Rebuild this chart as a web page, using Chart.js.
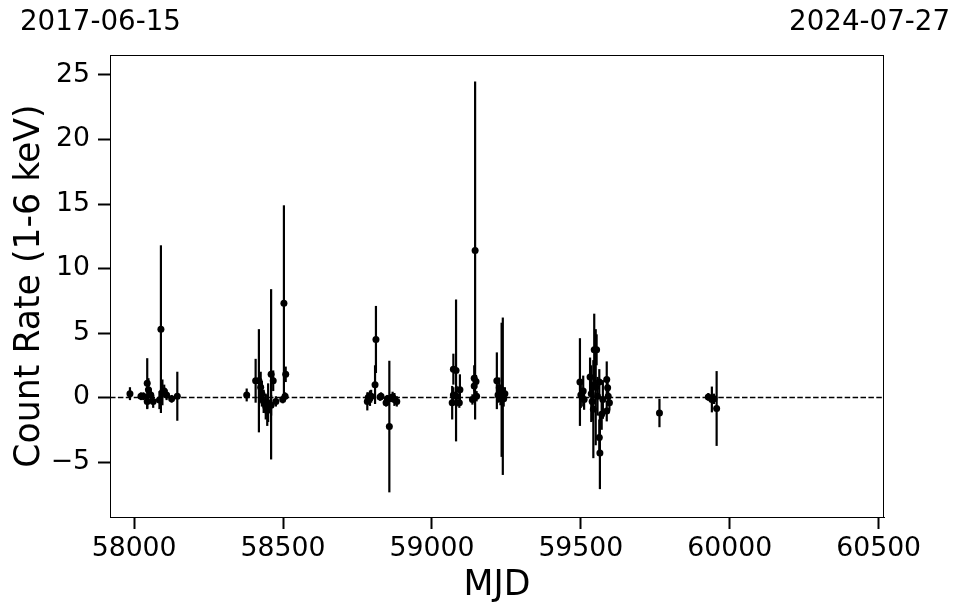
<!DOCTYPE html>
<html>
<head>
<meta charset="utf-8">
<script src="https://cdn.jsdelivr.net/npm/chart.js@4"></script>
<style>
  html, body { margin: 0; padding: 0; background: #fff; }
  #wrap { width: 962px; height: 613px; }
</style>
</head>
<body>
<div id="wrap"><canvas id="lc" width="962" height="613"></canvas></div>
<script>
// light curve values
const mjd = [
  57986, 58023, 58031, 58044, 58048, 58044, 58056, 58064, 58085, 58090, 58095, 58101, 58109, 58126, 58145,
  58378, 58408, 58419, 58425, 58429, 58435, 58442, 58447, 58450, 58460, 58467, 58460, 58476, 58499, 58503, 58509, 58507,
  58783, 58786, 58792, 58796, 58809, 58812, 58826, 58829, 58846, 58850, 58857, 58862, 58868, 58874, 58882,
  59068, 59072, 59072, 59081, 59083, 59092, 59094, 59136, 59142, 59142, 59145, 59148, 59150,
  59218, 59222, 59226, 59230, 59234, 59238, 59241, 59245,
  59497, 59500, 59508, 59511, 59531, 59535, 59538, 59542, 59545, 59550, 59553, 59556, 59562, 59564, 59562,
  59570, 59574, 59587, 59590, 59592, 59587, 59596, 59764,
  59928, 59940, 59947, 59956
];
const rate = [
  0.3, 0.1, 0.1, 1.1, 0.6, -0.3, 0.2, -0.3, -0.2, 5.3, 0.4, 0.5, 0.2, -0.1, 0.1,
  0.2, 1.3, 1.3, 0.8, 0.3, -0.3, -0.7, -1.0, -0.4, 1.8, 1.3, -0.6, -0.3, -0.15, 7.3, 1.8, 0.1,
  -0.3, 0.0, -0.05, 0.1, 1.0, 4.5, 0.05, 0.1, -0.4, -0.1, -2.25, -0.05, 0.05, -0.15, -0.3,
  -0.4, 2.2, 0.2, 2.1, 0.1, -0.4, 0.6, -0.15, 1.5, 0.9, 11.4, 1.25, 0.1,
  1.3, 0.2, 0.75, -0.1, 0.6, 0.1, -0.1, 0.3,
  1.2, 0.2, 0.5, -0.15, 1.6, 0.3, -0.3, -0.9, 3.7, 0.8, 3.7, 0.1, -3.1, -4.3, 1.2,
  -1.3, -0.15, 1.4, 0.75, 0.1, -1.05, -0.4, -1.2,
  0.05, -0.15, -0.1, -0.85
];
const rateErr = [
  0.5, 0.3, 0.3, 1.95, 0.9, 0.6, 0.5, 0.5, 0.7, 6.5, 1.0, 0.5, 0.4, 0.3, 1.9,
  0.5, 1.7, 4.0, 1.2, 1.0, 0.9, 1.0, 1.2, 1.5, 6.6, 0.8, 0.8, 0.4, 0.3, 7.6, 0.6, 0.3,
  0.7, 0.4, 0.6, 0.5, 1.5, 2.6, 0.3, 0.3, 0.3, 0.3, 5.1, 0.3, 0.4, 0.5, 0.4,
  1.3, 1.2, 0.6, 5.5, 0.8, 0.4, 1.2, 0.4, 1.0, 0.8, 13.1, 0.5, 0.4,
  2.2, 0.6, 0.8, 0.5, 5.2, 6.1, 0.6, 0.5,
  3.4, 1.0, 1.2, 0.8, 1.5, 2.2, 1.5, 3.8, 2.8, 4.5, 1.2, 1.5, 1.4, 2.8, 1.0,
  1.2, 1.5, 1.4, 0.8, 0.7, 0.8, 0.6, 1.1,
  0.3, 1.0, 0.4, 2.9
];

const xTicks = [58000, 58500, 59000, 59500, 60000, 60500];
const yTicks = [-5, 0, 5, 10, 15, 20, 25];
const xRange = [57919, 60518];
const yRange = [-9.26, 26.55];
const startLabel = '2017-06-15';
const endLabel = '2024-07-27';

const FONT = 'DejaVu Sans';

// vertical error bars, drawn through the chart scales
const errorBars = {
  id: 'errorBars',
  beforeDatasetsDraw(chart) {
    const ctx = chart.ctx;
    const xs = chart.scales.x, ys = chart.scales.y;
    ctx.save();
    ctx.strokeStyle = '#000';
    ctx.lineWidth = 2.2;
    for (let i = 0; i < mjd.length; i++) {
      const px = xs.getPixelForValue(mjd[i]);
      ctx.beginPath();
      ctx.moveTo(px, ys.getPixelForValue(rate[i] - rateErr[i]));
      ctx.lineTo(px, ys.getPixelForValue(rate[i] + rateErr[i]));
      ctx.stroke();
    }
    ctx.restore();
  }
};

// box around the axes and the two date labels on top
const frame = {
  id: 'frame',
  afterDraw(chart) {
    const ctx = chart.ctx;
    const a = chart.chartArea;
    ctx.save();
    ctx.strokeStyle = '#000';
    ctx.lineWidth = 1;
    ctx.strokeRect(a.left + 0.5, a.top + 0.5, a.right - a.left - 1, a.bottom - a.top);
    ctx.fillStyle = '#000';
    ctx.font = '27.7px "' + FONT + '"';
    ctx.textBaseline = 'middle';
    ctx.textAlign = 'left';
    ctx.fillText(startLabel, 20, 23);
    ctx.textAlign = 'right';
    ctx.fillText(endLabel, 950, 23);
    ctx.restore();
  }
};

new Chart(document.getElementById('lc'), {
  type: 'scatter',
  data: {
    datasets: [
      {
        data: mjd.map((m, i) => ({ x: m, y: rate[i] })),
        backgroundColor: '#000',
        borderColor: '#000',
        borderWidth: 0,
        pointRadius: 3.5,
        order: 0
      },
      {
        type: 'line',
        data: [{ x: xRange[0], y: 0 }, { x: xRange[1], y: 0 }],
        borderColor: '#000',
        borderWidth: 1.6,
        borderDash: [5.5, 2.4],
        pointRadius: 0,
        order: 1
      }
    ]
  },
  options: {
    responsive: false,
    animation: false,
    devicePixelRatio: 1,
    layout: { padding: { top: 55, right: 78, left: 0, bottom: 0 } },
    plugins: { legend: { display: false }, tooltip: { enabled: false } },
    scales: {
      x: {
        type: 'linear',
        min: xRange[0],
        max: xRange[1],
        afterBuildTicks: s => { s.ticks = xTicks.map(v => ({ value: v })); },
        afterFit: s => { s.height = 96; },
        grid: { drawOnChartArea: false, drawTicks: true, tickLength: 12, tickWidth: 2, tickColor: '#000' },
        border: { display: true, color: '#000', width: 1 },
        ticks: { color: '#000', font: { family: FONT, size: 26.7 }, padding: 4, maxRotation: 0, callback: v => String(v) },
        title: { display: true, text: 'MJD', color: '#000', font: { family: FONT, size: 34.7 }, padding: { top: 0, bottom: 6 } }
      },
      y: {
        min: yRange[0],
        max: yRange[1],
        afterBuildTicks: s => { s.ticks = yTicks.map(v => ({ value: v })); },
        afterFit: s => { s.width = 110; },
        grid: { drawOnChartArea: false, drawTicks: true, tickLength: 12, tickWidth: 2, tickColor: '#000' },
        border: { display: true, color: '#000', width: 1 },
        ticks: { color: '#000', font: { family: FONT, size: 26.7 }, padding: 8, callback: v => (v < 0 ? '\u2212' + Math.abs(v) : String(v)) },
        title: { display: true, text: 'Count Rate (1-6 keV)', color: '#000', font: { family: FONT, size: 34.7 }, padding: { top: 9, bottom: 0 } }
      }
    }
  },
  plugins: [errorBars, frame]
});
</script>
</body>
</html>
